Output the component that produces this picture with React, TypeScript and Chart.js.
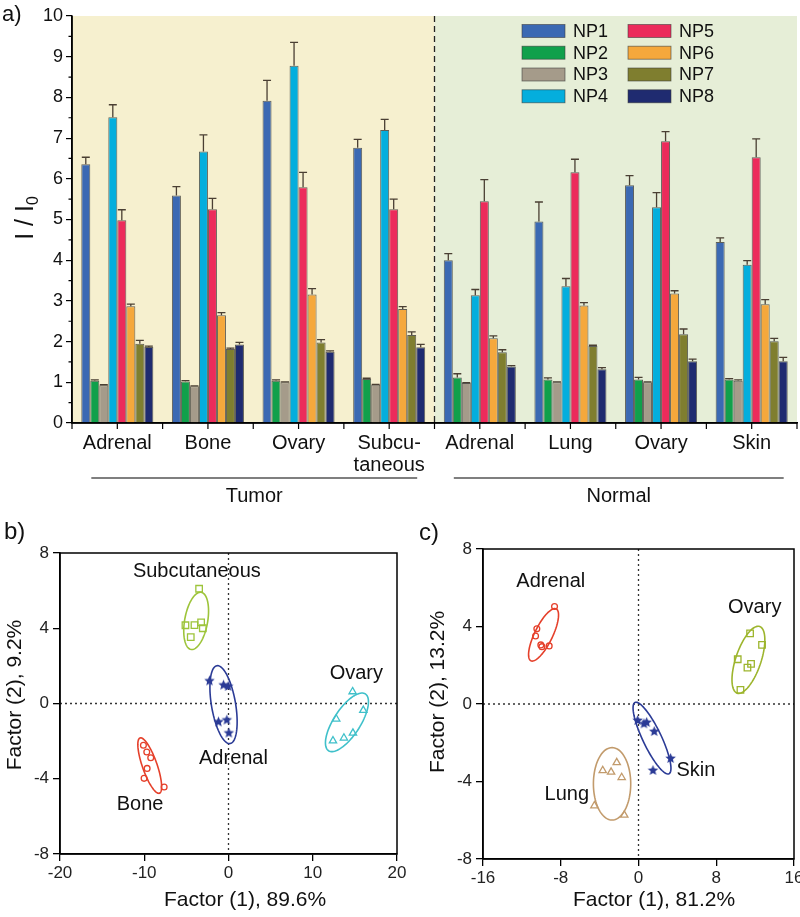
import React, { useEffect, useRef } from 'react';
import { Chart, registerables } from 'chart.js';
Chart.register(...registerables);

const FONT = '"Liberation Sans", Arial, Helvetica, sans-serif';

// ---------------- Panel a data ----------------
const groupLabels: (string | string[])[] = ['Adrenal', 'Bone', 'Ovary', ['Subcu-', 'taneous'], 'Adrenal', 'Lung', 'Ovary', 'Skin'];
const tissueLabels = ['Tumor', 'Normal'];
const seriesNames = ['NP1', 'NP2', 'NP3', 'NP4', 'NP5', 'NP6', 'NP7', 'NP8'];
const seriesColors = ['#3b69b3', '#10a04b', '#a59b8a', '#04aedd', '#ec2b5b', '#f5a83c', '#7f7e2f', '#1f2b70'];

const NP1 = [6.36, 5.59, 7.92, 6.76, 4.0, 4.95, 5.84, 4.45];
const NP2 = [1.04, 1.02, 1.04, 1.08, 1.12, 1.07, 1.07, 1.07];
const NP3 = [0.93, 0.9, 1.0, 0.94, 0.98, 1.0, 1.0, 1.04];
const NP4 = [7.51, 6.67, 8.78, 7.2, 3.14, 3.36, 5.3, 3.89];
const NP5 = [4.98, 5.25, 5.79, 5.25, 5.45, 6.16, 6.92, 6.53];
const NP6 = [2.87, 2.65, 3.16, 2.8, 2.08, 2.89, 3.18, 2.92];
const NP7 = [1.95, 1.82, 1.98, 2.16, 1.74, 1.89, 2.18, 2.01];
const NP8 = [1.87, 1.93, 1.75, 1.86, 1.39, 1.32, 1.52, 1.52];

const NP1err = [0.17, 0.22, 0.5, 0.21, 0.16, 0.48, 0.24, 0.1];
const NP2err = [0.02, 0.02, 0.02, 0.02, 0.09, 0.04, 0.05, 0.02];
const NP3err = [0.01, 0.01, 0.01, 0.01, 0.01, 0.01, 0.01, 0.02];
const NP4err = [0.31, 0.41, 0.57, 0.26, 0.14, 0.19, 0.36, 0.1];
const NP5err = [0.26, 0.27, 0.37, 0.25, 0.53, 0.32, 0.24, 0.45];
const NP6err = [0.05, 0.06, 0.14, 0.06, 0.06, 0.07, 0.07, 0.11];
const NP7err = [0.08, 0.02, 0.07, 0.08, 0.06, 0.02, 0.13, 0.07];
const NP8err = [0.02, 0.05, 0.02, 0.07, 0.02, 0.04, 0.05, 0.09];

const seriesValues = [NP1, NP2, NP3, NP4, NP5, NP6, NP7, NP8];
const seriesErrors = [NP1err, NP2err, NP3err, NP4err, NP5err, NP6err, NP7err, NP8err];

// ---------------- Panel b data ----------------
const bNames = ['Subcutaneous', 'Bone', 'Adrenal', 'Ovary'];
const bColors = ['#9dc43a', '#e5402b', '#2b3b96', '#3fc0ca'];
const bStyles = ['rect', 'circle', 'star', 'triangle'];
const bSubcutaneous = [[-3.49, 6.1], [-5.11, 4.16], [-4.04, 4.17], [-3.25, 4.31], [-3.05, 4.0], [-4.48, 3.53]];
const bBone = [[-10.1, -2.22], [-9.7, -2.58], [-9.23, -2.88], [-9.66, -3.45], [-10.02, -3.98], [-7.64, -4.44]];
const bAdrenal = [[-2.26, 1.2], [-0.59, 0.98], [-0.04, 0.91], [-1.19, -0.98], [-0.2, -0.88], [0.04, -1.57]];
const bOvary = [[14.73, 0.63], [16.0, -0.36], [12.79, -0.82], [12.4, -1.98], [13.7, -1.83], [14.77, -1.57]];
// ellipse: centre, half major axis vector, half minor axis vector (data units)
const bEllipseCenters = [[-3.84, 4.39], [-9.35, -3.3], [-0.59, -0.06], [14.06, -1.0]];
const bEllipseMajor = [[0.59, 1.52], [-1.15, 1.47], [-0.79, 2.07], [2.18, 1.51]];
const bEllipseMinor = [[1.35, -0.09], [0.82, 0.13], [1.41, 0.11], [1.33, -0.38]];
const bLabelAt = [[-3.76, 7.03], [-10.5, -5.38], [0.59, -2.9], [15.17, 1.62]];
const bXTitle = 'Factor (1), 89.6%';
const bYTitle = 'Factor (2), 9.2%';

// ---------------- Panel c data ----------------
const cNames = ['Adrenal', 'Ovary', 'Skin', 'Lung'];
const cColors = ['#e5402b', '#9db52d', '#2b3b96', '#c29b6c'];
const cStyles = ['circle', 'rect', 'star', 'triangle'];
const cAdrenal = [[-8.64, 5.03], [-10.46, 3.88], [-10.59, 3.51], [-10.05, 3.05], [-9.94, 2.96], [-9.19, 3.0]];
const cOvary = [[11.48, 3.65], [12.71, 3.05], [10.21, 2.31], [11.58, 2.07], [11.21, 1.88], [10.49, 0.73]];
const cSkin = [[-0.09, -0.85], [0.56, -1.02], [0.84, -0.95], [1.62, -1.42], [3.3, -2.81], [1.49, -3.43]];
const cLung = [[-2.24, -3.02], [-3.68, -3.43], [-2.82, -3.51], [-1.73, -3.79], [-4.54, -5.25], [-1.46, -5.73]];
const cEllipseCenters = [[-9.77, 3.57], [11.31, 2.28], [1.39, -1.76], [-2.72, -4.12]];
const cEllipseMajor = [[1.3, 1.34], [1.16, 1.72], [-1.75, 1.84], [0, 1.87]];
const cEllipseMinor = [[0.83, -0.2], [1.23, -0.21], [0.86, 0.21], [1.92, 0]];
const cLabelAt = [[-9.02, 6.32], [11.96, 4.99], [5.9, -3.43], [-7.38, -4.68]];
const cXTitle = 'Factor (1), 81.2%';
const cYTitle = 'Factor (2), 13.2%';

// ---------------- helpers ----------------
function makeStar(color: string, r: number) {
  const c = document.createElement('canvas');
  const s = Math.ceil(r * 2 + 2);
  c.width = s;
  c.height = s;
  const g = c.getContext('2d')!;
  g.fillStyle = color;
  g.beginPath();
  for (let i = 0; i < 10; i++) {
    const rr = i % 2 === 0 ? r : r * 0.45;
    const a = -Math.PI / 2 + (i * Math.PI) / 5;
    g.lineTo(s / 2 + rr * Math.cos(a), s / 2 + rr * Math.sin(a));
  }
  g.closePath();
  g.fill();
  return c;
}

const panelAPlugin = {
  id: 'panelA',
  beforeDraw(chart: any) {
    const { ctx, chartArea: ca, scales } = chart;
    const x = scales.x;
    const mid = (x.getPixelForValue(3) + x.getPixelForValue(4)) / 2;
    ctx.save();
    ctx.fillStyle = '#f6f0cf';
    ctx.fillRect(ca.left, ca.top, mid - ca.left, ca.bottom - ca.top);
    ctx.fillStyle = '#e6eed7';
    ctx.fillRect(mid, ca.top, ca.right - mid, ca.bottom - ca.top);
    ctx.strokeStyle = '#222';
    ctx.lineWidth = 1.3;
    ctx.setLineDash([6, 4]);
    ctx.beginPath();
    ctx.moveTo(mid, ca.top);
    ctx.lineTo(mid, ca.bottom);
    ctx.stroke();
    ctx.restore();
  },
  afterDatasetsDraw(chart: any) {
    const { ctx, scales } = chart;
    const y = scales.y;
    ctx.save();
    ctx.strokeStyle = '#4a3f33';
    ctx.lineWidth = 1.3;
    seriesValues.forEach((vals, i) => {
      const meta = chart.getDatasetMeta(i);
      meta.data.forEach((el: any, j: number) => {
        const top = y.getPixelForValue(vals[j] + seriesErrors[i][j]);
        const base = el.y;
        ctx.beginPath();
        ctx.moveTo(el.x, base);
        ctx.lineTo(el.x, top);
        ctx.moveTo(el.x - 4, top);
        ctx.lineTo(el.x + 4, top);
        ctx.stroke();
      });
    });
    ctx.restore();
  },
  afterDraw(chart: any) {
    const { ctx, chartArea: ca, scales } = chart;
    const x = scales.x;
    const y = scales.y;
    ctx.save();
    // axis lines
    ctx.strokeStyle = '#000';
    ctx.lineWidth = 1.5;
    ctx.beginPath();
    ctx.moveTo(ca.left, ca.top);
    ctx.lineTo(ca.left, ca.bottom);
    ctx.lineTo(ca.right, ca.bottom);
    ctx.stroke();
    // x ticks at centres and boundaries
    ctx.lineWidth = 1.2;
    const n = groupLabels.length;
    const step = x.getPixelForValue(1) - x.getPixelForValue(0);
    ctx.beginPath();
    for (let i = 0; i < n; i++) {
      const c = x.getPixelForValue(i);
      ctx.moveTo(c, ca.bottom);
      ctx.lineTo(c, ca.bottom + 6);
      ctx.moveTo(c - step / 2, ca.bottom);
      ctx.lineTo(c - step / 2, ca.bottom + 6);
    }
    ctx.moveTo(ca.right, ca.bottom);
    ctx.lineTo(ca.right, ca.bottom + 6);
    // y minor ticks
    for (let v = 0.5; v < 10; v += 1) {
      const py = y.getPixelForValue(v);
      ctx.moveTo(ca.left, py);
      ctx.lineTo(ca.left - 3.5, py);
    }
    ctx.stroke();

    // brackets Tumor / Normal
    ctx.strokeStyle = '#555';
    ctx.lineWidth = 1.6;
    const lineY = 478;
    const t0 = x.getPixelForValue(0) - 26;
    const t1 = x.getPixelForValue(3) + 28;
    const n0 = x.getPixelForValue(4) - 26;
    const n1 = x.getPixelForValue(7) + 32;
    ctx.beginPath();
    ctx.moveTo(t0, lineY);
    ctx.lineTo(t1, lineY);
    ctx.moveTo(n0, lineY);
    ctx.lineTo(n1, lineY);
    ctx.stroke();
    ctx.fillStyle = '#111';
    ctx.font = `20px ${FONT}`;
    ctx.textAlign = 'center';
    ctx.textBaseline = 'middle';
    ctx.fillText(tissueLabels[0], (t0 + t1) / 2, 496);
    ctx.fillText(tissueLabels[1], (n0 + n1) / 2, 496);

    // legend (2 columns x 4 rows)
    const colX = [522, 628];
    const rowY = [31, 52.7, 74.5, 96.3];
    ctx.textAlign = 'left';
    ctx.font = `18px ${FONT}`;
    seriesNames.forEach((name, i) => {
      const col = Math.floor(i / 4);
      const row = i % 4;
      const bx = colX[col];
      const by = rowY[row];
      ctx.fillStyle = seriesColors[i];
      ctx.fillRect(bx, by - 6.5, 43, 13);
      ctx.strokeStyle = 'rgba(60,60,60,0.7)';
      ctx.lineWidth = 0.8;
      ctx.strokeRect(bx, by - 6.5, 43, 13);
      ctx.fillStyle = '#111';
      ctx.fillText(name, bx + 51, by + 1);
    });

    // y title I / I0
    ctx.save();
    ctx.translate(24, 218);
    ctx.rotate(-Math.PI / 2);
    ctx.font = `25px ${FONT}`;
    const main = 'I / I';
    const w1 = ctx.measureText(main).width;
    ctx.font = `16px ${FONT}`;
    const w0 = ctx.measureText('0').width;
    const start = -(w1 + w0) / 2;
    ctx.textAlign = 'left';
    ctx.textBaseline = 'alphabetic';
    ctx.fillStyle = '#111';
    ctx.font = `25px ${FONT}`;
    ctx.fillText(main, start, 9);
    ctx.font = `16px ${FONT}`;
    ctx.fillText('0', start + w1, 14);
    ctx.restore();

    // panel letter
    ctx.font = `22px ${FONT}`;
    ctx.fillStyle = '#111';
    ctx.textAlign = 'left';
    ctx.textBaseline = 'middle';
    ctx.fillText('a)', 2, 15);
    ctx.restore();
  },
};

type ScatterSpec = {
  names: string[];
  colors: string[];
  styles: string[];
  points: number[][][];
  centers: number[][];
  majors: number[][];
  minors: number[][];
  labelAt: number[][];
  xMin: number;
  xMax: number;
  xStep: number;
  yMin: number;
  yMax: number;
  yStep: number;
  xTitle: string;
  yTitle: string;
  letter: string;
  letterPos: number[];
  xTitlePos: number[];
  yTitlePos: number[];
  pad: { left: number; top: number; right: number; bottom: number };
};

function scatterPlugin(spec: ScatterSpec) {
  return {
    id: 'scatterExtras',
    beforeDatasetsDraw(chart: any) {
      const { ctx, chartArea: ca, scales } = chart;
      const x = scales.x;
      const y = scales.y;
      ctx.save();
      // dotted zero lines
      ctx.strokeStyle = '#333';
      ctx.lineWidth = 1.3;
      ctx.setLineDash([2, 3]);
      ctx.beginPath();
      const x0 = x.getPixelForValue(0);
      const y0 = y.getPixelForValue(0);
      ctx.moveTo(x0, ca.top);
      ctx.lineTo(x0, ca.bottom);
      ctx.moveTo(ca.left, y0);
      ctx.lineTo(ca.right, y0);
      ctx.stroke();
      ctx.setLineDash([]);
      // ellipses
      ctx.lineWidth = 1.6;
      spec.centers.forEach((c, i) => {
        const u = spec.majors[i];
        const v = spec.minors[i];
        ctx.strokeStyle = spec.colors[i];
        ctx.beginPath();
        for (let k = 0; k <= 90; k++) {
          const t = (k / 90) * Math.PI * 2;
          const dx = c[0] + u[0] * Math.cos(t) + v[0] * Math.sin(t);
          const dy = c[1] + u[1] * Math.cos(t) + v[1] * Math.sin(t);
          const px = x.getPixelForValue(dx);
          const py = y.getPixelForValue(dy);
          if (k === 0) ctx.moveTo(px, py);
          else ctx.lineTo(px, py);
        }
        ctx.closePath();
        ctx.stroke();
      });
      ctx.restore();
    },
    afterDraw(chart: any) {
      const { ctx, chartArea: ca, scales } = chart;
      const x = scales.x;
      const y = scales.y;
      ctx.save();
      ctx.strokeStyle = '#000';
      ctx.lineWidth = 1.5;
      ctx.strokeRect(ca.left, ca.top, ca.right - ca.left, ca.bottom - ca.top);
      // cluster labels
      ctx.fillStyle = '#111';
      ctx.font = `20px ${FONT}`;
      ctx.textAlign = 'center';
      ctx.textBaseline = 'middle';
      spec.names.forEach((name, i) => {
        const p = spec.labelAt[i];
        ctx.fillText(name, x.getPixelForValue(p[0]), y.getPixelForValue(p[1]));
      });
      // axis titles
      ctx.font = `21px ${FONT}`;
      ctx.fillText(spec.xTitle, spec.xTitlePos[0], spec.xTitlePos[1]);
      ctx.save();
      ctx.translate(spec.yTitlePos[0], spec.yTitlePos[1]);
      ctx.rotate(-Math.PI / 2);
      ctx.fillText(spec.yTitle, 0, 0);
      ctx.restore();
      // panel letter
      ctx.font = `24px ${FONT}`;
      ctx.textAlign = 'left';
      ctx.fillText(spec.letter, spec.letterPos[0], spec.letterPos[1]);
      ctx.restore();
    },
  };
}

function scatterConfig(spec: ScatterSpec): any {
  const tickFont = { family: FONT, size: 17 };
  return {
    type: 'scatter',
    data: {
      datasets: spec.points.map((pts, i) => ({
        label: spec.names[i],
        data: pts.map(([px, py]) => ({ x: px, y: py })),
        pointStyle: spec.styles[i] === 'star' ? makeStar(spec.colors[i], 5.5) : spec.styles[i],
        pointRadius: spec.styles[i] === 'rect' ? 4.6 : spec.styles[i] === 'triangle' ? 4.2 : 2.9,
        borderColor: spec.colors[i],
        backgroundColor: 'rgba(0,0,0,0)',
        pointBorderWidth: 1.3,
      })),
    },
    options: {
      responsive: false,
      animation: false,
      events: [],
      layout: { padding: { left: 0, top: spec.pad.top, right: spec.pad.right, bottom: 0 } },
      plugins: { legend: { display: false }, tooltip: { enabled: false } },
      scales: {
        x: {
          type: 'linear',
          min: spec.xMin,
          max: spec.xMax,
          ticks: { stepSize: spec.xStep, font: tickFont, color: '#222', padding: 2 },
          grid: { drawOnChartArea: false, drawTicks: true, tickLength: 7, color: '#000', lineWidth: 1.3 },
          border: { color: '#000', width: 1.5 },
          afterFit: (s: any) => {
            s.height = spec.pad.bottom;
            s.paddingLeft = 0;
            s.paddingRight = 0;
          },
        },
        y: {
          type: 'linear',
          min: spec.yMin,
          max: spec.yMax,
          ticks: { stepSize: spec.yStep, font: tickFont, color: '#222', padding: 4 },
          grid: { drawOnChartArea: false, drawTicks: true, tickLength: 7, color: '#000', lineWidth: 1.3 },
          border: { color: '#000', width: 1.5 },
          afterFit: (s: any) => {
            s.width = spec.pad.left;
            s.paddingTop = 0;
            s.paddingBottom = 0;
          },
        },
      },
    },
    plugins: [scatterPlugin(spec)],
  };
}

const specB: ScatterSpec = {
  names: bNames,
  colors: bColors,
  styles: bStyles,
  points: [bSubcutaneous, bBone, bAdrenal, bOvary],
  centers: bEllipseCenters,
  majors: bEllipseMajor,
  minors: bEllipseMinor,
  labelAt: bLabelAt,
  xMin: -20,
  xMax: 20,
  xStep: 10,
  yMin: -8,
  yMax: 8,
  yStep: 4,
  xTitle: bXTitle,
  yTitle: bYTitle,
  letter: 'b)',
  letterPos: [4, 12],
  xTitlePos: [245, 380],
  yTitlePos: [15, 175],
  pad: { left: 60, top: 33, right: 33, bottom: 63 },
};

const specC: ScatterSpec = {
  names: cNames,
  colors: cColors,
  styles: cStyles,
  points: [cAdrenal, cOvary, cSkin, cLung],
  centers: cEllipseCenters,
  majors: cEllipseMajor,
  minors: cEllipseMinor,
  labelAt: cLabelAt,
  xMin: -16,
  xMax: 16,
  xStep: 8,
  yMin: -8,
  yMax: 8,
  yStep: 4,
  xTitle: cXTitle,
  yTitle: cYTitle,
  letter: 'c)',
  letterPos: [19, 13],
  xTitlePos: [254, 380],
  yTitlePos: [38, 172],
  pad: { left: 83, top: 29, right: 6, bottom: 58 },
};

function BarPanel() {
  const ref = useRef<HTMLCanvasElement>(null);
  useEffect(() => {
    const chart = new Chart(ref.current!, {
      type: 'bar',
      data: {
        labels: groupLabels as any,
        datasets: seriesNames.map((name, i) => ({
          label: name,
          data: seriesValues[i],
          backgroundColor: seriesColors[i],
          borderColor: 'rgba(45,45,45,0.75)',
          borderWidth: 1,
          categoryPercentage: 0.795,
          barPercentage: 1,
        })),
      },
      options: {
        responsive: false,
        animation: false,
        events: [],
        layout: { padding: { left: 0, top: 16, right: 3, bottom: 0 } },
        plugins: { legend: { display: false }, tooltip: { enabled: false } },
        scales: {
          x: {
            ticks: { font: { family: FONT, size: 20, lineHeight: 1.1 }, color: '#111', padding: 9, autoSkip: false, maxRotation: 0 },
            grid: { drawOnChartArea: false, drawTicks: false },
            border: { color: '#000', width: 1.5 },
            afterFit: (s: any) => {
              s.height = 97;
              s.paddingLeft = 0;
              s.paddingRight = 0;
            },
          },
          y: {
            min: 0,
            max: 10,
            ticks: { stepSize: 1, font: { family: FONT, size: 18 }, color: '#111', padding: 3 },
            grid: { drawOnChartArea: false, drawTicks: true, tickLength: 6, color: '#000', lineWidth: 1.2 },
            border: { color: '#000', width: 1.5 },
            afterFit: (s: any) => {
              s.width = 72;
              s.paddingTop = 0;
              s.paddingBottom = 0;
            },
          },
        },
      } as any,
      plugins: [panelAPlugin],
    });
    return () => chart.destroy();
  }, []);
  return <canvas ref={ref} width={800} height={520} style={{ position: 'absolute', left: 0, top: 0, display: 'block' }} />;
}

function ScatterPanel({ spec, left, width }: { spec: ScatterSpec; left: number; width: number }) {
  const ref = useRef<HTMLCanvasElement>(null);
  useEffect(() => {
    const chart = new Chart(ref.current!, scatterConfig(spec));
    return () => chart.destroy();
  }, [spec]);
  return <canvas ref={ref} width={width} height={397} style={{ position: 'absolute', left, top: 520, display: 'block' }} />;
}

export default function App() {
  return (
    <div style={{ position: 'absolute', left: 0, top: 0, width: 800, height: 917, background: '#fff', overflow: 'hidden' }}>
      <BarPanel />
      <ScatterPanel spec={specB} left={0} width={430} />
      <ScatterPanel spec={specC} left={400} width={400} />
    </div>
  );
}
